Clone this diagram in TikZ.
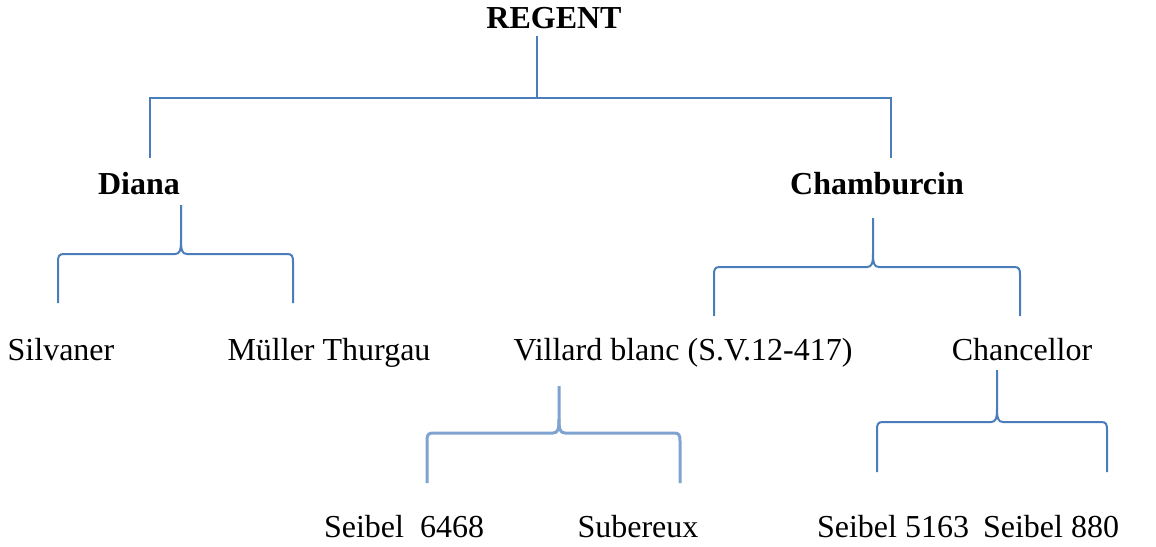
\documentclass[tikz,border=0pt]{standalone}
\usepackage{fontspec}
\setmainfont{Liberation Serif}
\definecolor{lineblue}{HTML}{4A7EBB}
\definecolor{lightblue}{HTML}{7FA3D0}
\newcommand{\mybrk}[7]{%
  % #1 style, #2 xl, #3 xr, #4 xt, #5 ytop, #6 yh, #7 ybot
  \draw[#1] (#2,#7) -- (#2,#6+8) .. controls (#2,#6+2) and (#2+1,#6) .. (#2+6,#6)
    -- (#4-6,#6) .. controls (#4-1,#6) and (#4,#6-4) .. (#4,#6-14) -- (#4,#5);
  \draw[#1] (#3,#7) -- (#3,#6+8) .. controls (#3,#6+2) and (#3-1,#6) .. (#3-6,#6)
    -- (#4+6,#6) .. controls (#4+1,#6) and (#4,#6-4) .. (#4,#6-14);
}
\begin{document}
\begin{tikzpicture}[x=1pt,y=-1pt,
  lbl/.style={anchor=base,inner sep=0pt,font=\fontsize{32}{38}\selectfont},
  blbl/.style={lbl,font=\fontsize{32}{38}\selectfont\bfseries},
  br/.style={draw=lineblue,line width=2pt},
  brlight/.style={draw=lightblue,line width=3pt}]
\useasboundingbox (0,0) rectangle (1156,546);
% nodes
\node[blbl] (regent) at (554,28) {REGENT};
\node[blbl] (diana) at (139,194) {Diana};
\node[blbl] (chamb) at (877,194) {Chamburcin};
\node[lbl] (silv) at (61,360) {Silvaner};
\node[lbl] (mull) at (329,360) {Müller Thurgau};
\node[lbl] (vill) at (683,360) {Villard blanc (S.V.12-417)};
\node[lbl] (chan) at (1022,360) {Chancellor};
\node[lbl] (s6468) at (404,537) {Seibel\ \ 6468};
\node[lbl] (sub) at (638,537) {Subereux};
\node[lbl] (s5163) at (893,537) {Seibel 5163};
\node[lbl] (s880) at (1051,537) {Seibel 880};
% top connector
\coordinate (rtop) at (537,36);
\coordinate (rmid) at (537,98);
\coordinate (lend) at (150,158);
\coordinate (rend) at (891,158);
\draw[br] (rtop) -- (rmid);
\draw[br] (lend) |- (rmid) -| (rend);
% braces
\mybrk{br}{58}{293}{181}{205}{254}{303}
\mybrk{br}{714}{1020}{873}{218}{267}{316}
\mybrk{brlight}{427}{680}{559}{386}{433}{483}
\mybrk{br}{877}{1107}{997}{370}{422}{472}
\end{tikzpicture}
\end{document}
